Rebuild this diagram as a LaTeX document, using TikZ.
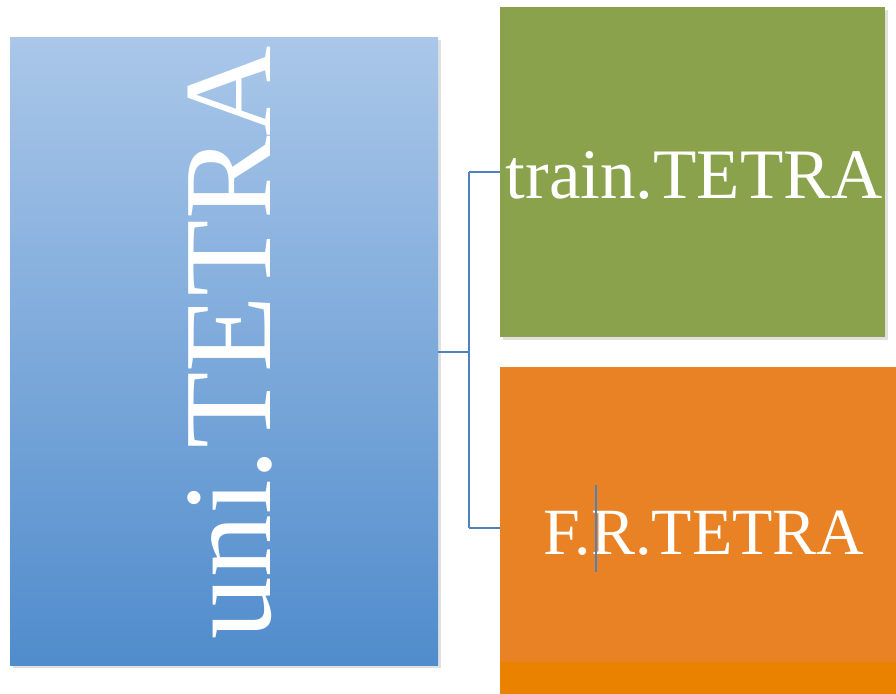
\documentclass[tikz,border=0pt]{standalone}
\usepackage{fontspec}
\setmainfont{Liberation Serif}
\usetikzlibrary{shadows}
\definecolor{bluetop}{RGB}{170,199,233}
\definecolor{bluebot}{RGB}{80,140,204}
\definecolor{leafgreen}{RGB}{137,162,75}
\definecolor{deeporange}{RGB}{233,130,36}
\definecolor{bandorange}{RGB}{234,130,0}
\definecolor{linkblue}{RGB}{79,129,189}
\tikzset{
  boxshadow/.style={drop shadow={shadow xshift=3pt,shadow yshift=-3pt,opacity=0.2,fill=black!60}},
  link/.style={draw=linkblue,line width=1.1pt},
  label/.style={text=white,inner sep=0pt}
}
\begin{document}
\begin{tikzpicture}[x=1pt,y=-1pt]
  \useasboundingbox (0,0) rectangle (896,693);
  % parent box with vertical gradient
  \node[boxshadow,draw=none,top color=bluetop,bottom color=bluebot,
        minimum width=428pt,minimum height=628pt,anchor=north west,inner sep=0pt]
        (uni) at (10,37) {};
  \node[label,rotate=90,font=\fontsize{125}{125}\selectfont] (unitext) at (230,343) {uni.TETRA};
  % child boxes
  \node[boxshadow,fill=leafgreen,minimum width=385pt,minimum height=330pt,
        anchor=north west,inner sep=0pt] (train) at (500,7) {};
  \node[label,font=\fontsize{71}{71}\selectfont] (traintext) at (694,175) {train.TETRA};
  \node[boxshadow,fill=deeporange,minimum width=400pt,minimum height=330pt,
        anchor=north west,inner sep=0pt] (fr) at (500,367) {};
  \fill[bandorange] (500,662) rectangle (900,697);
  \node[label,font=\fontsize{66}{66}\selectfont] (frtext) at (704,533) {F.R.TETRA};
  % text cursor inside the label
  \coordinate (curtop) at (596,485);
  \coordinate (curbot) at (596,572);
  \draw[draw=linkblue,line width=1.4pt] (curtop) -- (curbot);
  % bracket connector
  \coordinate (fork) at (469,352);
  \coordinate (forktop) at (469,172);
  \coordinate (forkbot) at (469,528);
  \draw[link] (uni.east |- fork) -- (fork);
  \draw[link] (forktop) -- (forkbot);
  \draw[link] (forktop) -- (train.west |- forktop);
  \draw[link] (forkbot) -- (fr.west |- forkbot);
\end{tikzpicture}
\end{document}
